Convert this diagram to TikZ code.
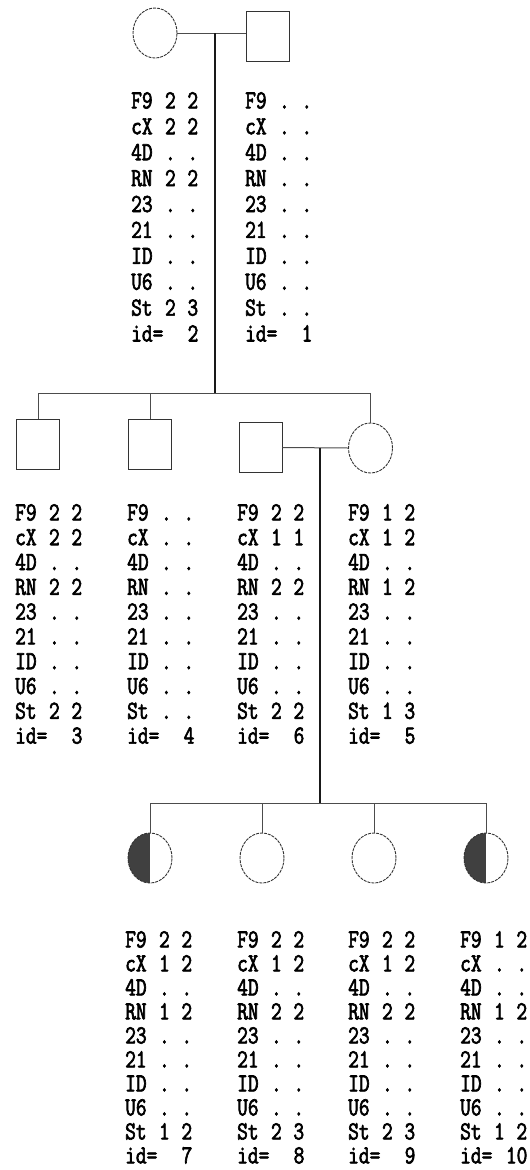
\documentclass[tikz,border=0pt]{standalone}
\usepackage{fontspec}
\newfontfamily\pedfont{Latin Modern Mono}[FakeStretch=0.8,FakeBold=2.5]
\usetikzlibrary{shapes.geometric}
\newcommand\gp[2]{\makebox[11.2pt]{#1}\makebox[11.2pt]{}\makebox[11.2pt]{#2}}
\newcommand\lb[1]{\makebox[33.6pt][l]{#1}}
\newcommand\pd[9]{\lb{F9}\gp#1\\\lb{cX}\gp#2\\\lb{4D}\gp#3\\\lb{RN}\gp#4\\\lb{23}\gp#5\\\lb{21}\gp#6\\\lb{ID}\gp#7\\\lb{U6}\gp#8\\\lb{St}\gp#9}
\newcommand\pdid[1]{\makebox[67.2pt][l]{id=\hfill#1}}
\tikzset{
  person/.style={draw=black!80, line width=0.9pt, inner sep=0pt},
  fem/.style={person, ellipse, minimum width=44pt, minimum height=50pt, dash pattern=on 3pt off 1pt},
  mal/.style={person, rectangle, minimum width=43pt, minimum height=50pt},
  aff/.style={path picture={\fill[black!75] (path picture bounding box.south west) rectangle (path picture bounding box.north);}},
  conn/.style={draw=black!70, line width=1pt},
  desc/.style={draw=black!90, line width=1.3pt},
  geno/.style={anchor=north west, inner sep=0pt, align=left, font=\pedfont\fontsize{26pt}{#1}\selectfont}
}
\begin{document}
\begin{tikzpicture}[x=1pt,y=-1pt]
\useasboundingbox (0,0) rectangle (530,1170);
% generation I
\node[fem] (c2) at (155,33) {};
\node[mal] (s1) at (267.5,36.5) {};
\node[geno=25.9pt] (t2) at (131,92) {\pd{22}{22}{..}{22}{..}{..}{..}{..}{23}\\\pdid{2}};
\node[geno=25.9pt] (t1) at (245,92) {\pd{..}{..}{..}{..}{..}{..}{..}{..}{..}\\\pdid{1}};
\draw[conn] (c2.east) -- (s1.west |- c2.east);
\coordinate (m1) at (215,33);
\coordinate (sb1) at (215,393);
\draw[desc] (m1) -- (sb1);
% generation II
\node[mal] (s3) at (38,444) {};
\node[mal] (s4) at (150,444.5) {};
\node[mal] (s6) at (260.5,447.5) {};
\node[fem] (c5) at (370.5,448) {};
\coordinate (sb1l) at (38,393);
\coordinate (sb1r) at (370.5,393);
\draw[conn] (sb1l) -- (sb1r);
\draw[conn] (sb1l) -- (s3.north);
\draw[conn] (s4.north |- sb1) -- (s4.north);
\draw[conn] (sb1r) -- (c5.north);
\draw[conn] (s6.east) -- (c5.west);
\node[geno=24.8pt] (t3) at (15,504) {\pd{22}{22}{..}{22}{..}{..}{..}{..}{22}\\\pdid{3}};
\node[geno=24.8pt] (t4) at (127,504) {\pd{..}{..}{..}{..}{..}{..}{..}{..}{..}\\\pdid{4}};
\node[geno=24.8pt] (t6) at (237,504) {\pd{22}{11}{..}{22}{..}{..}{..}{..}{22}\\\pdid{6}};
\node[geno=24.8pt] (t5) at (348,504) {\pd{12}{12}{..}{12}{..}{..}{..}{..}{13}\\\pdid{5}};
\coordinate (m2) at (320,447.5);
\coordinate (sb2) at (320,803);
\draw[desc] (m2) -- (sb2);
% generation III
\node[fem,aff] (c7) at (150,858) {};
\node[fem] (c8) at (262,858) {};
\node[fem] (c9) at (374,858) {};
\node[fem,aff] (c10) at (486,858) {};
\coordinate (sb2l) at (150,803);
\coordinate (sb2r) at (486,803);
\draw[conn] (sb2l) -- (sb2r);
\draw[conn] (sb2l) -- (c7.north);
\draw[conn] (c8.north |- sb2) -- (c8.north);
\draw[conn] (c9.north |- sb2) -- (c9.north);
\draw[conn] (sb2r) -- (c10.north);
\node[geno=24pt] (t7) at (125,931) {\pd{22}{12}{..}{12}{..}{..}{..}{..}{12}\\\pdid{7}};
\node[geno=24pt] (t8) at (237,931) {\pd{22}{12}{..}{22}{..}{..}{..}{..}{23}\\\pdid{8}};
\node[geno=24pt] (t9) at (348,931) {\pd{22}{12}{..}{22}{..}{..}{..}{..}{23}\\\pdid{9}};
\node[geno=24pt] (t10) at (460,931) {\pd{12}{..}{..}{12}{..}{..}{..}{..}{12}\\\pdid{10}};
\end{tikzpicture}
\end{document}
